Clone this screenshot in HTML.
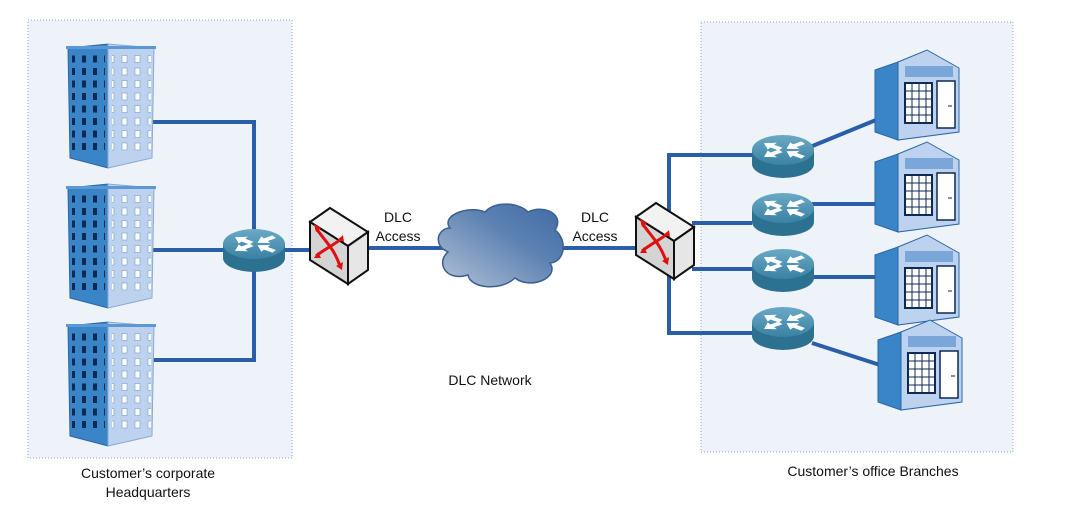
<!DOCTYPE html>
<html><head><meta charset="utf-8"><style>
html,body{margin:0;padding:0;background:#fff;}
svg{display:block;}
text{font-family:"Liberation Sans",sans-serif;font-size:14px;fill:#111;}
</style></head><body>
<svg width="1085" height="526" viewBox="0 0 1085 526" xmlns="http://www.w3.org/2000/svg">
<defs>
<linearGradient id="cg" x1="0" y1="1" x2="1" y2="0"><stop offset="0" stop-color="#b4c2d6"/><stop offset="0.6" stop-color="#5c82b2"/><stop offset="1" stop-color="#3f6aa5"/></linearGradient>
<linearGradient id="rg" x1="0" y1="0" x2="0" y2="1"><stop offset="0" stop-color="#6aaac6"/><stop offset="1" stop-color="#3a81a3"/></linearGradient>
<pattern id="wl" x="0" y="0" width="11" height="12.5" patternUnits="userSpaceOnUse"><rect x="3" y="3" width="4" height="7" fill="#0d2a55"/></pattern>
<pattern id="wr" x="0" y="0" width="13" height="12.5" patternUnits="userSpaceOnUse"><rect x="2" y="3" width="5" height="7" fill="#fff" stroke="#7a9cc8" stroke-width="0.6"/></pattern>
<g id="bld">
 <polygon points="0,8 40,4 40,128 2,118" fill="#3a84c8" stroke="#2a66a6" stroke-width="1"/>
 <polygon points="40,4 86,8 84,118 40,128" fill="#bcd2ee" stroke="#8aaad2" stroke-width="1"/>
 <rect x="-2" y="6" width="90" height="3" fill="#5b98d4"/>
 <rect x="4" y="12" width="33" height="100" fill="url(#wl)"/>
 <rect x="44" y="12" width="39" height="100" fill="url(#wr)"/>
</g>
<path id="arr" d="M2,-2.2 L9,-2.2 L9,-5.5 L16,0 L9,5.5 L9,2.2 L2,2.2 Z" fill="#fff"/>
<g id="router">
 <path d="M0,16 L0,30 A31,14 0 0 0 62,30 L62,16 Z" fill="#2d7191"/>
 <ellipse cx="31" cy="16" rx="31" ry="15" fill="url(#rg)"/>
 <g transform="translate(31,16) scale(1.45,0.75)">
  <use href="#arr" transform="rotate(-145)"/>
  <use href="#arr" transform="rotate(145)"/>
  <use href="#arr" transform="rotate(-35) translate(19,0) rotate(180)"/>
  <use href="#arr" transform="rotate(35) translate(19,0) rotate(180)"/>
 </g>
</g>
<g id="sw">
 <polygon points="0,14 20,0 58,24 38,38" fill="#f2f2f2" stroke="#111" stroke-width="2"/>
 <polygon points="0,14 38,38 38,76 0,52" fill="#d4d4d4" stroke="#111" stroke-width="2"/>
 <polygon points="38,38 58,24 58,62 38,76" fill="#e6e6e6" stroke="#111" stroke-width="2"/>
 <path d="M6,20 C14,32 24,40 30,58 M6,48 C16,40 26,36 32,30" stroke="#e01010" stroke-width="3" fill="none"/>
 <polygon points="4,16 11,20 6,24" fill="#e01010"/><polygon points="4,50 8,44 11,50" fill="#e01010"/>
 <polygon points="33,27 34,34 28,32" fill="#e01010"/><polygon points="32,62 26,58 33,54" fill="#e01010"/>
</g>
<g id="shop">
 <polygon points="0,20 23,12 23,90 0,82" fill="#3a84c8" stroke="#2a66a6"/>
 <polygon points="23,12 52,0 84,18 84,82 23,90" fill="#bcd2ee" stroke="#2a66a6"/>
 <rect x="30" y="16" width="48" height="11" fill="#7aa6da"/>
 <rect x="30" y="33" width="27" height="40" fill="#fff" stroke="#0d2a55" stroke-width="2"/>
 <path d="M37,33V73M44,33V73M51,33V73M30,41H57M30,49H57M30,57H57M30,65H57" stroke="#0d2a55" stroke-width="1"/>
 <rect x="62" y="31" width="18" height="47" fill="#fff" stroke="#0d2a55" stroke-width="1.5"/>
 <line x1="73" y1="56" x2="77" y2="56" stroke="#0d2a55"/>
</g>
</defs>

<rect x="28" y="20" width="264" height="438" fill="#eef3fa" stroke="#8fa6c6" stroke-dasharray="1,2"/>
<rect x="701" y="22" width="312" height="430" fill="#eef3fa" stroke="#8fa6c6" stroke-dasharray="1,2"/>

<g stroke="#2b5ea8" stroke-width="4" fill="none">
 <polyline points="153,122 254,122 254,360 153,360"/>
 <line x1="153" y1="250" x2="340" y2="250"/>
 <line x1="368" y1="248" x2="640" y2="248"/>
 <polyline points="752,155 669,155 669,333 752,333"/>
 <line x1="692" y1="223" x2="752" y2="223"/>
 <line x1="692" y1="269" x2="752" y2="269"/>
 <line x1="810" y1="147" x2="876" y2="120"/>
 <line x1="812" y1="204" x2="876" y2="204"/>
 <line x1="812" y1="277" x2="876" y2="277"/>
 <line x1="812" y1="343" x2="880" y2="365"/>
</g>

<use href="#bld" x="68" y="40"/>
<use href="#bld" x="68" y="180"/>
<use href="#bld" x="68" y="318"/>

<use href="#router" x="223" y="228"/>
<use href="#sw" x="310" y="208"/>
<use href="#sw" x="636" y="203"/>

<path d="M450,228 C440,215 470,205 485,212 C495,200 520,203 528,212 C545,204 565,215 555,230 C568,240 565,262 550,263 C560,278 530,290 515,278 C500,292 470,288 468,275 C445,282 436,262 448,252 C432,245 438,228 450,228 Z" fill="url(#cg)" stroke="#3a5f92" stroke-width="1.5"/>

<use href="#router" x="752" y="134"/>
<use href="#router" x="752" y="192"/>
<use href="#router" x="752" y="248"/>
<use href="#router" x="752" y="306"/>

<use href="#shop" x="875" y="50"/>
<use href="#shop" x="875" y="142"/>
<use href="#shop" x="875" y="235"/>
<use href="#shop" x="878" y="320"/>

<text x="398" y="222" text-anchor="middle">DLC</text>
<text x="398" y="241" text-anchor="middle">Access</text>
<text x="595" y="222" text-anchor="middle">DLC</text>
<text x="595" y="241" text-anchor="middle">Access</text>
<text x="490" y="385" text-anchor="middle">DLC Network</text>
<text x="148" y="478" text-anchor="middle">Customer’s corporate</text>
<text x="148" y="497" text-anchor="middle">Headquarters</text>
<text x="873" y="476" text-anchor="middle">Customer’s office Branches</text>
</svg>
</body></html>
